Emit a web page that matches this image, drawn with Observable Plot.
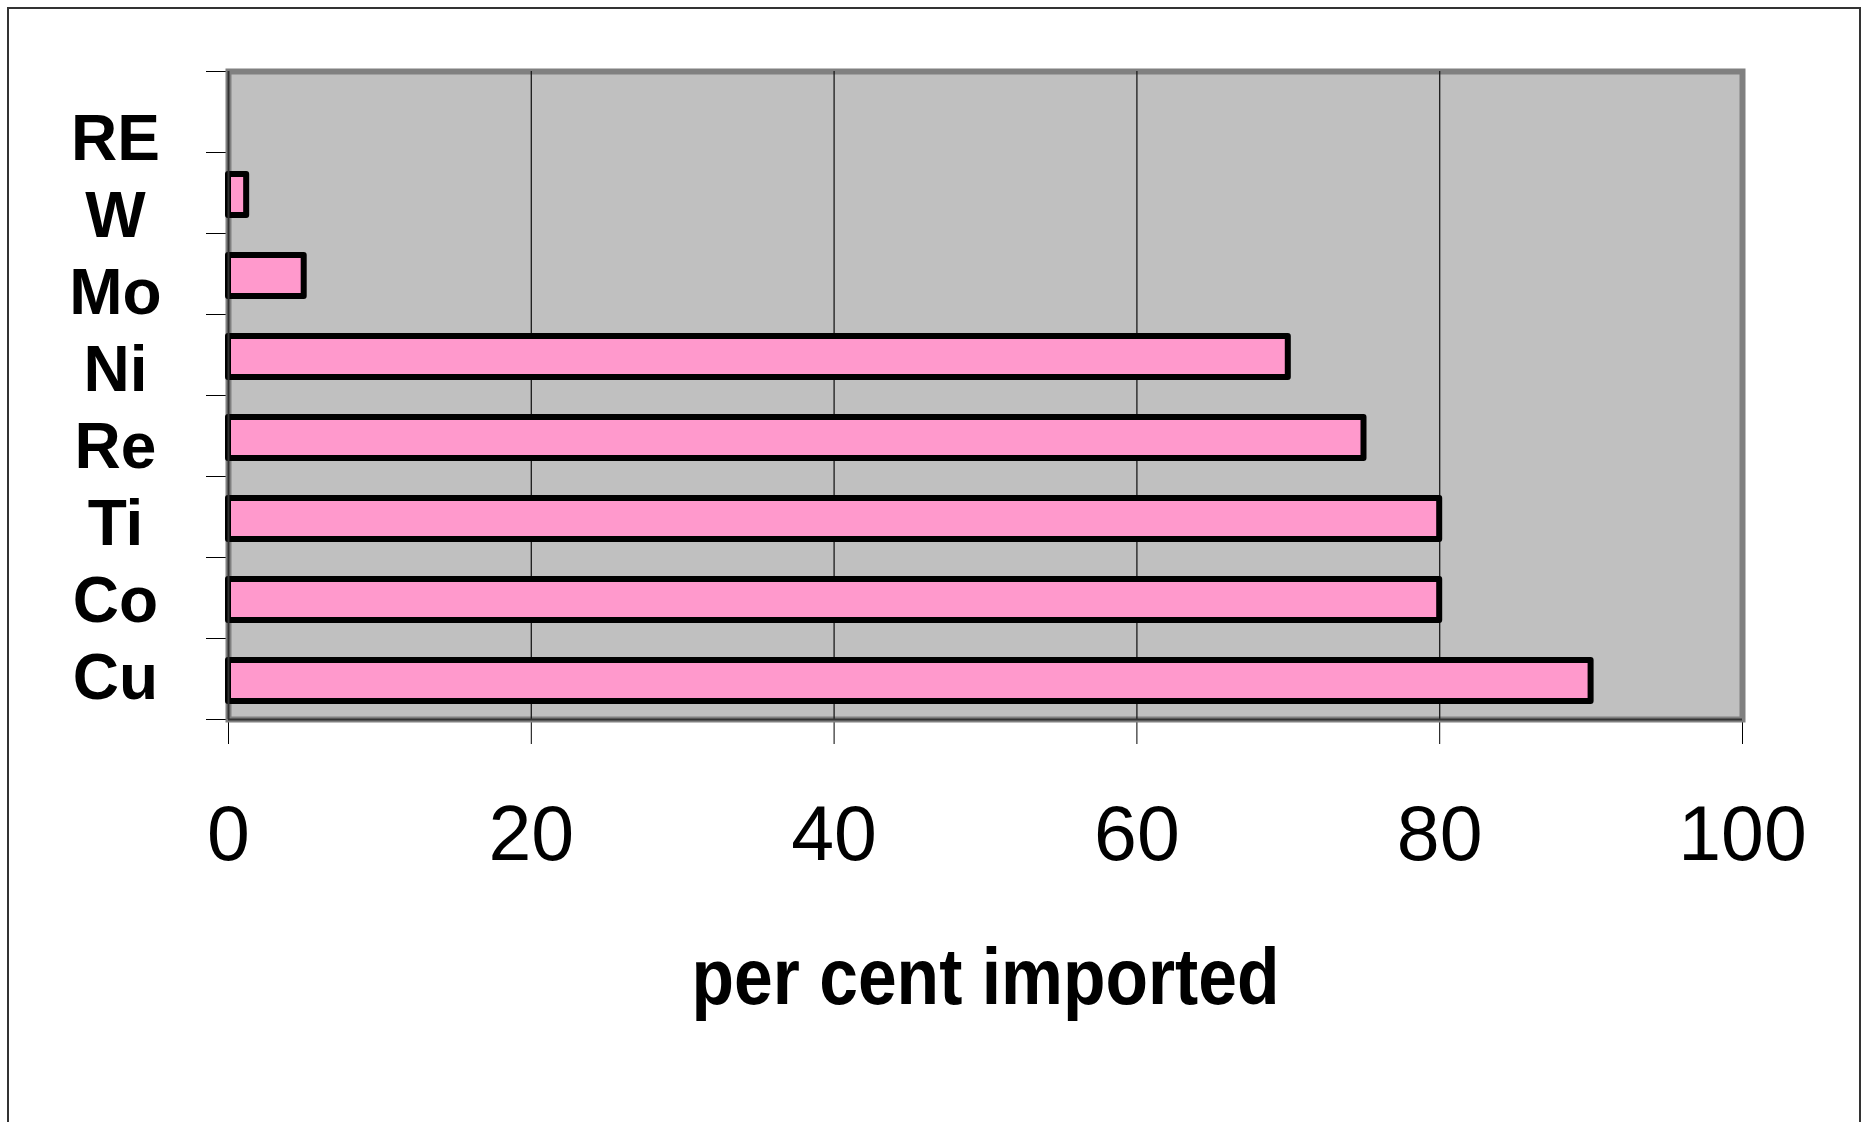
<!DOCTYPE html>
<html>
<head>
<meta charset="utf-8">
<script src="https://cdn.jsdelivr.net/npm/d3@7"></script>
<script src="https://cdn.jsdelivr.net/npm/@observablehq/plot@0.6"></script>
<style>
html, body { margin: 0; padding: 0; background: #fff; overflow: hidden; }
#wrap { position: relative; width: 1875px; height: 1122px; }
#border { position: absolute; left: 7px; top: 7px; width: 1854px; height: 1140px; border: 2px solid #333; box-sizing: border-box; }
#wrap svg { position: absolute; left: 0; top: 0; }
</style>
</head>
<body>
<div id="wrap"><div id="border"></div></div>
<script>
// ---- data ----
const categories = ["RE", "W", "Mo", "Ni", "Re", "Ti", "Co", "Cu"];
const values = [0, 1.2, 5, 70, 75, 80, 80, 90];
const xTicks = [0, 20, 40, 60, 80, 100];
const gridTicks = [20, 40, 60, 80];
const xLabel = "per cent imported";

const FONT = "'Liberation Sans', Arial, Helvetica, sans-serif";
const data = categories.map((c, i) => ({category: c, index: i, value: values[i]}));
const bounds = d3.range(categories.length + 1);

const main = Plot.plot({
  width: 1875,
  height: 1122,
  marginLeft: 228,
  marginRight: 133,
  marginTop: 71,
  marginBottom: 403,
  style: {fontFamily: FONT, fontSize: "77px", background: "transparent", color: "#000"},
  x: {
    domain: [0, 100],
    ticks: xTicks,
    tickSize: 25,
    tickPadding: 61,
    label: xLabel,
    labelAnchor: "center",
    labelOffset: 284,
    labelArrow: "none"
  },
  y: {
    domain: [0, categories.length],
    reverse: true,
    ticks: bounds,
    tickSize: 22,
    tickFormat: () => "",
    label: null
  },
  marks: [
    Plot.frame({fill: "#C0C0C0", stroke: "#808080", strokeWidth: 6}),
    Plot.ruleX(gridTicks, {stroke: "#1a1a1a", strokeWidth: 1.3}),
    Plot.rect(data.filter(d => d.value > 0), {
      x1: 0, x2: "value",
      y1: "index", y2: d => d.index + 1,
      insetTop: 22, insetBottom: 18,
      fill: "#FF99CC", stroke: "#000", strokeWidth: 6, strokeLinejoin: "round"
    }),
    Plot.ruleX([0], {stroke: "#333", strokeWidth: 2}),
    Plot.ruleY([categories.length], {stroke: "#333", strokeWidth: 2})
  ]
});

d3.select(main).selectAll("text")
  .filter(function () { return this.textContent.trim().startsWith(xLabel); })
  .text(xLabel)
  .attr("font-weight", "bold")
  .attr("font-size", 79)
  .attr("textLength", 588)
  .attr("lengthAdjust", "spacingAndGlyphs");

const labels = Plot.plot({
  width: 230,
  height: 1122,
  marginTop: 137,
  marginBottom: 442,
  marginLeft: 0,
  marginRight: 0,
  style: {fontFamily: FONT, background: "transparent", color: "#000"},
  x: {axis: null},
  y: {type: "point", domain: categories, padding: 0, axis: null},
  marks: [
    Plot.text(categories, {y: d => d, text: d => d, fontWeight: "bold", fontSize: 64, textAnchor: "middle"})
  ]
});

const wrap = document.getElementById("wrap");
wrap.appendChild(main);
wrap.appendChild(labels);
</script>
</body>
</html>
